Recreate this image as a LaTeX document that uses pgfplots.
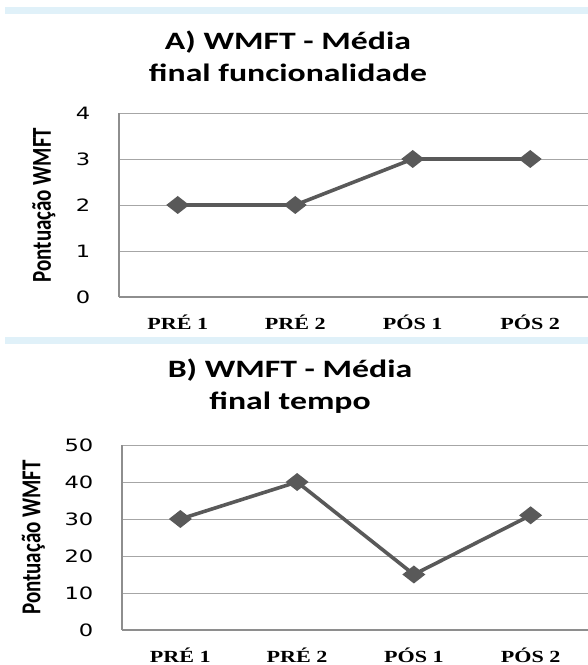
\documentclass[border=0pt]{standalone}
\usepackage{fontspec}
\setmainfont{Liberation Serif}
\newfontfamily\titlefont{Carlito}
\newfontfamily\numfont{DejaVu Sans}
\usepackage{pgfplots}
\pgfplotsset{compat=1.18}

\definecolor{band}{HTML}{E0F1F9}
\definecolor{serie}{HTML}{595959}
\definecolor{gridc}{HTML}{A6A6A6}
\definecolor{axisc}{HTML}{8E8E8E}

% diamond a bit wider than tall, as in the original
\pgfdeclareplotmark{wdiamond}{%
  \pgfpathmoveto{\pgfqpoint{11.5pt}{0pt}}%
  \pgfpathlineto{\pgfqpoint{0pt}{9pt}}%
  \pgfpathlineto{\pgfqpoint{-11.5pt}{0pt}}%
  \pgfpathlineto{\pgfqpoint{0pt}{-9pt}}%
  \pgfpathclose\pgfusepathqfill}

\pgfplotsset{
  wmft/.style={
    scale only axis,
    axis x line=bottom, axis y line=left,
    axis line style={-, axisc, line width=1.6pt},
    xmin=-0.5, xmax=3.5,
    xtick={0,1,2,3},
    xticklabels={PRÉ 1, PRÉ 2, PÓS 1, PÓS 2},
    major tick length=0pt,
    ymajorgrids, grid style={gridc, line width=0.9pt},
    xticklabel style={font=\fontsize{17}{17}\selectfont\bfseries, xscale=1.3, yshift=-14pt},
    yticklabel style={font=\numfont\fontsize{17}{17}\selectfont, xscale=1.33, xshift=-18pt},
    /pgf/number format/assume math mode=true,
    ylabel={Pontuação WMFT},
    ylabel style={font=\titlefont\bfseries\fontsize{21}{21}\selectfont, anchor=center, yscale=1.3},
    clip=false,
  },
  wline/.style={serie, line width=3.6pt, mark=wdiamond, mark options={serie}},
}

\begin{document}
\begin{tikzpicture}
\path[use as bounding box] (0pt,0pt) rectangle (588pt,665pt);
\fill[band] (5pt,651pt) rectangle (588pt,658pt);
\fill[band] (5pt,321pt) rectangle (588pt,328pt);

\node[font=\titlefont\bfseries\fontsize{25}{32}\selectfont, align=center, xscale=1.35]
  at (288pt,609pt) {A) WMFT - Média\\final funcionalidade};
\node[font=\titlefont\bfseries\fontsize{25}{32}\selectfont, align=center, xscale=1.35]
  at (290pt,279pt) {B) WMFT - Média\\final tempo};

% A) funcionalidade
\begin{axis}[wmft, at={(119pt,368pt)}, anchor=south west,
  width=470pt, height=184pt,
  ymin=0, ymax=4, ytick={0,1,2,3,4},
  ylabel style={at={(axis description cs:-0.16,0.5)}}]
\addplot[wline] coordinates {(0,2) (1,2) (2,3) (3,3)};
\end{axis}

% B) tempo
\begin{axis}[wmft, at={(122pt,35pt)}, anchor=south west,
  width=467pt, height=185pt,
  ymin=0, ymax=50, ytick={0,10,20,30,40,50},
  ylabel style={at={(axis description cs:-0.19,0.5)}}]
\addplot[wline] coordinates {(0,30) (1,40) (2,15) (3,31)};
\end{axis}
\end{tikzpicture}
\end{document}
